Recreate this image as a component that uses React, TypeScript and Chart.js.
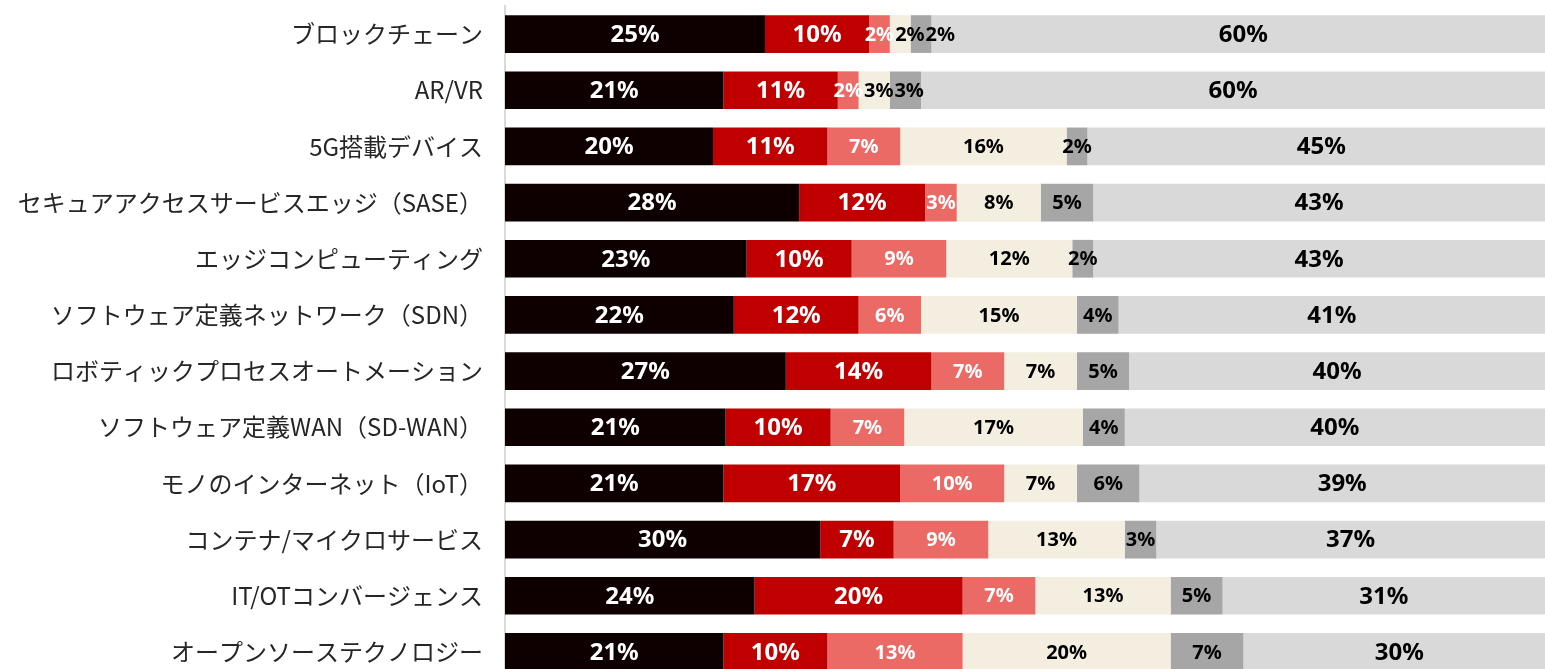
import React, { useEffect, useRef } from "react";
import { Chart, registerables } from "chart.js";

Chart.register(...registerables);

const categories = [
  "ブロックチェーン",
  "AR/VR",
  "5G搭載デバイス",
  "セキュアアクセスサービスエッジ（SASE）",
  "エッジコンピューティング",
  "ソフトウェア定義ネットワーク（SDN）",
  "ロボティックプロセスオートメーション",
  "ソフトウェア定義WAN（SD-WAN）",
  "モノのインターネット（IoT）",
  "コンテナ/マイクロサービス",
  "IT/OTコンバージェンス",
  "オープンソーステクノロジー",
];

const series1 = [25, 21, 20, 28, 23, 22, 27, 21, 21, 30, 24, 21];
const series2 = [10, 11, 11, 12, 10, 12, 14, 10, 17, 7, 20, 10];
const series3 = [2, 2, 7, 3, 9, 6, 7, 7, 10, 9, 7, 13];
const series4 = [2, 3, 16, 8, 12, 15, 7, 17, 7, 13, 13, 20];
const series5 = [2, 3, 2, 5, 2, 4, 5, 4, 6, 3, 5, 7];
const series6 = [60, 60, 45, 43, 43, 41, 40, 40, 39, 37, 31, 30];

const seriesList = [series1, series2, series3, series4, series5, series6];
const colors = ["#0e0000", "#c00000", "#ec6a66", "#f3eee0", "#a6a6a6", "#d9d9d9"];
const labelColors = ["#ffffff", "#ffffff", "#ffffff", "#000000", "#000000", "#000000"];
const labelSizes = [24, 24, 20, 20, 20, 24];

// Rounded labels may sum to 99 or 101: rows below 100 are scaled up to fill the bar,
// rows above 100 are drawn as-is and clipped at 100%.
const rowSums = categories.map((_, i) => seriesList.reduce((s, arr) => s + arr[i], 0));
const plotData = seriesList.map((arr) =>
  arr.map((v, i) => (rowSums[i] < 100 ? (v * 100) / rowSums[i] : v))
);

const labelPlugin = {
  id: "segLabels",
  afterDatasetsDraw(chart: any) {
    const ctx = chart.ctx;
    ctx.save();
    ctx.textBaseline = "middle";
    ctx.textAlign = "left";
    const n = chart.data.labels.length;
    for (let i = 0; i < n; i++) {
      let prevRight = -Infinity;
      chart.data.datasets.forEach((ds: any, di: number) => {
        const meta = chart.getDatasetMeta(di);
        const el: any = meta.data[i];
        if (!el) return;
        const txt = seriesList[di][i] + "%";
        ctx.font = `bold ${labelSizes[di]}px "Noto Sans"`;
        const w = ctx.measureText(txt).width;
        const cx = (el.x + el.base) / 2;
        let left = cx - w / 2;
        if (left < prevRight + 1) left = prevRight + 1;
        ctx.fillStyle = labelColors[di];
        ctx.fillText(txt, left, el.y + 1);
        prevRight = left + w;
      });
    }
    ctx.restore();
  },
};

export default function App() {
  const canvasRef = useRef<HTMLCanvasElement | null>(null);

  useEffect(() => {
    document.body.style.margin = "0";
    const canvas = canvasRef.current;
    if (!canvas) return;
    const chart = new Chart(canvas, {
      type: "bar",
      data: {
        labels: categories,
        datasets: plotData.map((arr, di) => ({
          label: "s" + (di + 1),
          data: arr,
          backgroundColor: colors[di],
          borderWidth: 0,
          barPercentage: 0.672,
          categoryPercentage: 1,
        })),
      },
      options: {
        indexAxis: "y",
        responsive: false,
        animation: false,
        layout: { padding: { top: 6, right: 0, bottom: 0, left: 0 } },
        plugins: {
          legend: { display: false },
          tooltip: { enabled: false },
        },
        scales: {
          x: {
            stacked: true,
            min: 0,
            max: 100,
            display: false,
          },
          y: {
            stacked: true,
            grid: { display: false, drawTicks: false },
            border: { display: true, color: "#d9d9d9", width: 2 },
            ticks: {
              padding: 22,
              color: "#262626",
              font: { family: '"Noto Sans CJK JP"', size: 24 },
            },
            afterFit(scale: any) {
              scale.width = 505;
              scale.paddingTop = 0;
              scale.paddingBottom = 0;
            },
          },
        },
      },
      plugins: [labelPlugin],
    });
    return () => chart.destroy();
  }, []);

  return (
    <div
      style={{
        position: "fixed",
        left: 0,
        top: 0,
        width: 1545,
        height: 669,
        overflow: "hidden",
        background: "#ffffff",
      }}
    >
      <canvas ref={canvasRef} width={1545} height={680} style={{ display: "block" }} />
    </div>
  );
}
